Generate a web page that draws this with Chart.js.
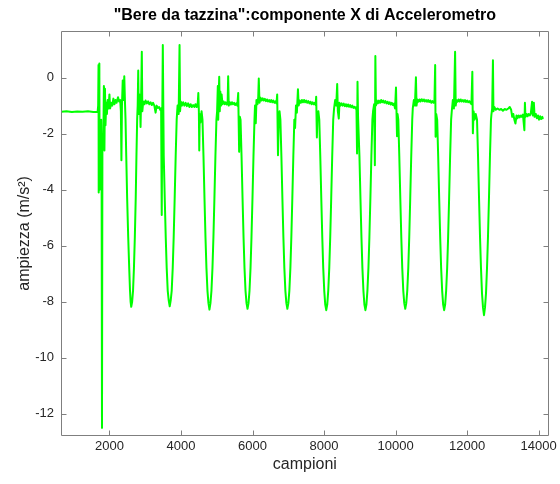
<!DOCTYPE html>
<html>
<head>
<meta charset="utf-8">
<title>Bere da tazzina - componente X</title>
<script src="https://cdn.jsdelivr.net/npm/chart.js@4/dist/chart.umd.min.js"></script>
<style>
    body { margin: 0; background: #ffffff; }
    canvas { display: block; }
</style>
</head>
<body>
<canvas id="accChart" width="560" height="484"></canvas>
<script>
// Sample index (campioni) and X acceleration (m/s^2), segment by segment
const campioni = [
    660, 800, 950, 1100, 1250, 1400, 1550, 1670,
    1685, 1695, 1700, 1710, 1718, 1726, 1740, 1755, 1770, 1780, 1792, 1804,
    1828, 1845, 1860, 1875, 1890, 1910, 1930, 1950, 1975, 2000, 2020, 2050, 2080, 2110, 2140, 2170, 2200, 2240, 2270, 2300, 2320, 2335, 2350, 2372, 2395, 2415, 2435,
    2450, 2470, 2495, 2525, 2553, 2575, 2592, 2609, 2635, 2660, 2685, 2710, 2735, 2755, 2775,
    2790, 2805, 2818, 2840, 2860, 2870, 2885, 2905, 2920, 2945, 2980, 3010, 3045, 3080, 3115, 3150, 3185, 3220, 3255, 3290, 3320, 3355, 3390, 3420, 3445, 3462, 3476, 3492,
    3518, 3546, 3574, 3601, 3629, 3657, 3685, 3713, 3741, 3769, 3796, 3824, 3852, 3880,
    3905, 3935, 3960, 3975, 3995, 4025, 4060, 4095, 4130, 4165, 4200, 4235, 4270, 4305, 4340, 4375, 4405, 4440, 4470, 4485, 4500, 4511, 4525, 4545, 4575,
    4601, 4629, 4657, 4685, 4712, 4740, 4768, 4796, 4824, 4852, 4880, 4907, 4935, 4963, 4991,
    5010, 5030, 5041, 5055, 5069, 5085, 5100, 5120, 5136, 5160, 5190, 5220, 5250, 5280, 5305, 5319, 5335, 5365, 5395, 5425, 5455, 5485, 5515, 5545, 5575, 5600, 5626, 5645,
    5665, 5693, 5721, 5749, 5776, 5804, 5832, 5860, 5888, 5916, 5944, 5971, 5999, 6027, 6055,
    6070, 6091, 6110, 6140, 6160, 6175, 6195, 6225, 6255, 6285, 6315, 6345, 6375, 6405, 6435, 6465, 6495, 6525, 6555, 6585, 6615, 6645, 6670, 6690, 6712, 6735, 6755,
    6779, 6807, 6835, 6863, 6890, 6918, 6946, 6974, 7002, 7030, 7058, 7085, 7113, 7141, 7169,
    7190, 7215, 7240, 7270, 7290, 7320, 7350, 7380, 7410, 7440, 7470, 7500, 7530, 7560, 7590, 7620, 7650, 7680, 7710, 7740, 7765, 7780, 7799, 7815, 7840,
    7866, 7894, 7922, 7950, 7977, 8005, 8033, 8061, 8089, 8117, 8145, 8172, 8200, 8228, 8256,
    8280, 8310, 8340, 8367, 8385, 8412, 8430, 8460, 8490, 8520, 8550, 8580, 8610, 8640, 8670, 8700, 8730, 8760, 8790, 8820, 8850, 8880, 8905, 8922, 8935, 8950,
    8989, 9017, 9045, 9072, 9100, 9128, 9156, 9184, 9212, 9240, 9267, 9295, 9323, 9351,
    9370, 9400, 9420, 9434, 9450, 9475, 9505, 9535, 9565, 9595, 9625, 9655, 9685, 9715, 9745, 9775, 9805, 9835, 9865, 9895, 9925, 9955, 9985, 10011, 10039, 10055,
    10075, 10103, 10131, 10159, 10186, 10214, 10242, 10270, 10298, 10326, 10354, 10381, 10409, 10437, 10465,
    10480, 10510, 10540, 10568, 10585, 10610, 10640, 10670, 10700, 10730, 10760, 10790, 10820, 10850, 10880, 10910, 10940, 10970, 11000, 11030, 11060, 11085, 11106, 11118, 11135,
    11162, 11190, 11218, 11246, 11273, 11301, 11329, 11357, 11385, 11413, 11441, 11468, 11496, 11524, 11552,
    11570, 11600, 11630, 11663, 11680, 11700, 11730, 11760, 11790, 11820, 11850, 11880, 11910, 11940, 11970, 12000, 12030, 12060, 12090, 12120, 12145, 12160, 12180, 12210, 12240,
    12276, 12304, 12332, 12360, 12387, 12415, 12443, 12471, 12499, 12527, 12555, 12582, 12610, 12638, 12666,
    12680, 12700, 12721, 12735, 12760, 12800, 12850, 12900, 12950, 13000, 13050, 13100, 13150, 13190, 13230, 13260, 13290, 13320, 13350, 13380, 13410, 13440, 13470, 13500, 13530, 13560, 13600, 13615, 13630, 13660, 13690, 13720, 13750, 13780, 13815, 13835, 13865, 13885, 13920, 13950, 13980, 14010, 14040, 14070, 14100, 14114
];

const ampiezza = [
    -1.22, -1.2, -1.23, -1.21, -1.22, -1.2, -1.23, -1.22,
    -1.0, 0.45, -4.1, -2.0, 0.5, -4.0, -1.8, -3.5, -1.5, -2.5, -12.5, -2.0,
    -2.4, -0.3, -2.6, -0.4, -1.7, -0.9, -1.3, -0.8, -1.1, -0.6, -1.1, -0.9, -1.0, -0.75, -0.95, -0.8, -0.9, -0.7, -0.85, -0.8, -1.2, -2.95, -1.0, -0.1, -0.8, 0.05, -0.9,
    -1.5, -2.8, -4.3, -5.7, -6.8, -7.6, -8.0, -8.18, -8.0, -7.6, -6.8, -5.7, -4.3, -2.8, -1.5,
    -1.0, 0.25, -1.3, -0.6, -1.2, -1.76, -0.8, 0.92, -1.2, -0.85, -0.95, -0.82, -0.92, -0.85, -0.95, -0.88, -0.98, -0.9, -1.0, -1.25, -1.0, -1.08, -1.05, -1.15, -1.1, -4.9, -1.5, 1.16,
    -2.8, -4.3, -5.7, -6.8, -7.6, -7.95, -8.16, -7.95, -7.6, -6.8, -5.7, -4.3, -2.8, -1.5,
    -1.0, -1.3, 1.16, -1.2, -0.85, -1.0, -0.88, -1.0, -0.9, -1.02, -0.92, -1.05, -0.95, -1.05, -0.98, -1.05, -0.95, -1.05, -0.9, -0.55, -1.2, -2.6, -1.3, -1.6, -1.2,
    -1.5, -2.8, -4.3, -5.7, -6.8, -7.6, -8.05, -8.28, -8.05, -7.6, -6.8, -5.7, -4.3, -2.8, -1.5,
    -1.2, -0.3, -1.5, -0.6, 0.03, -1.2, -0.5, -1.0, -0.6, -0.95, -0.85, -0.95, -0.88, -0.96, -0.9, 0.05, -1.0, -0.88, -0.96, -0.88, -0.95, -0.9, -0.98, -0.92, -1.0, -0.55, -2.65, -1.4,
    -1.5, -2.8, -4.3, -5.7, -6.8, -7.6, -8.05, -8.25, -8.05, -7.6, -6.8, -5.7, -4.3, -2.8, -1.5,
    -1.0, -1.63, -0.8, -0.95, -0.7, -0.03, -0.9, -0.72, -0.82, -0.74, -0.82, -0.76, -0.84, -0.78, -0.85, -0.8, -0.87, -0.8, -0.88, -0.82, -0.9, -0.85, -0.92, -0.6, -2.77, -1.4, -1.2,
    -1.5, -2.8, -4.3, -5.7, -6.8, -7.6, -8.05, -8.25, -8.05, -7.6, -6.8, -5.7, -4.3, -2.8, -1.5,
    -1.8, -1.0, -1.25, -0.42, -1.0, -0.82, -0.9, -0.8, -0.88, -0.8, -0.88, -0.82, -0.9, -0.84, -0.92, -0.86, -0.95, -0.88, -0.95, -0.9, -0.98, -0.68, -2.14, -1.3, -1.2,
    -1.5, -2.8, -4.3, -5.7, -6.8, -7.6, -8.1, -8.3, -8.1, -7.6, -6.8, -5.7, -4.3, -2.8, -1.5,
    -1.1, -0.8, -1.0, -0.23, -1.2, -1.46, -0.9, -1.0, -0.92, -1.0, -0.93, -1.02, -0.95, -1.03, -0.96, -1.04, -0.98, -1.06, -1.0, -1.08, -1.04, -1.1, -1.05, -2.71, -0.15, -1.4,
    -2.8, -4.3, -5.7, -6.8, -7.6, -8.1, -8.3, -8.1, -7.6, -6.8, -5.7, -4.3, -2.8, -1.5,
    -1.2, -0.95, -3.13, 0.77, -1.0, -0.82, -0.92, -0.82, -0.9, -0.8, -0.88, -0.82, -0.9, -0.84, -0.92, -0.86, -0.94, -0.88, -0.96, -0.9, -0.98, -0.93, -1.1, -0.35, -2.09, -1.3,
    -1.5, -2.8, -4.3, -5.7, -6.8, -7.6, -8.05, -8.25, -8.05, -7.6, -6.8, -5.7, -4.3, -2.8, -1.5,
    -1.1, -0.8, -1.0, 0.01, -1.0, -0.78, -0.86, -0.78, -0.85, -0.77, -0.84, -0.78, -0.85, -0.8, -0.86, -0.8, -0.87, -0.82, -0.9, -0.84, -0.9, -0.88, 0.45, -2.11, -1.3,
    -1.5, -2.8, -4.3, -5.7, -6.8, -7.6, -8.1, -8.3, -8.1, -7.6, -6.8, -5.7, -4.3, -2.8, -1.5,
    -1.2, -0.8, -1.1, 0.92, -1.0, -0.8, -0.86, -0.78, -0.85, -0.78, -0.85, -0.8, -0.86, -0.8, -0.87, -0.82, -0.88, -0.84, -0.9, -0.95, 0.21, -1.99, -1.2, -1.5, -1.3,
    -1.5, -2.8, -4.3, -5.7, -6.8, -7.7, -8.2, -8.48, -8.2, -7.7, -6.8, -5.7, -4.3, -2.8, -1.5,
    -1.3, -1.1, 0.62, -1.2, -1.05, -1.15, -1.1, -1.15, -1.12, -1.18, -1.12, -1.15, -1.1, -1.05, -1.15, -1.4, -1.3, -1.5, -1.64, -1.35, -1.45, -1.35, -1.42, -1.35, -1.4, -1.32, -1.88, -0.9, -1.4, -1.3, -1.38, -1.3, -1.35, -1.28, -0.86, -1.35, -0.9, -1.4, -1.3, -1.45, -1.35, -1.5, -1.38, -1.48, -1.4, -1.45
];

// Axis ticks and limits
const xTicks = [2000, 4000, 6000, 8000, 10000, 12000, 14000];
const yTicks = [-12, -10, -8, -6, -4, -2, 0];
const xLimits = [646, 14280];
const yLimits = [-12.79, 1.67];

const fontFamily = '"Liberation Sans", Arial, Helvetica, sans-serif';
const textColor = '#262626';

// Box round the plot with MATLAB style inward ticks
const boxPlugin = {
    id: 'boxPlugin',
    afterDatasetsDraw(chart) {
        const ctx = chart.ctx;
        const area = chart.chartArea;
        const xs = chart.scales.x;
        const ys = chart.scales.y;
        const tick = 5;
        ctx.save();
        ctx.strokeStyle = '#7f7f7f';
        ctx.lineWidth = 1;
        ctx.beginPath();
        const l = Math.round(area.left) + 0.5;
        const r = Math.round(area.right) - 0.5;
        const t = Math.round(area.top) + 0.5;
        const b = Math.round(area.bottom) - 0.5;
        ctx.rect(l, t, r - l, b - t);
        xTicks.forEach(v => {
            const px = Math.round(xs.getPixelForValue(v)) + 0.5;
            ctx.moveTo(px, b);
            ctx.lineTo(px, b - tick);
            ctx.moveTo(px, t);
            ctx.lineTo(px, t + tick);
        });
        yTicks.forEach(v => {
            const py = Math.round(ys.getPixelForValue(v)) + 0.5;
            ctx.moveTo(l, py);
            ctx.lineTo(l + tick, py);
            ctx.moveTo(r, py);
            ctx.lineTo(r - tick, py);
        });
        ctx.stroke();
        ctx.restore();
    }
};

const config = {
    type: 'line',
    data: {
        datasets: [{
            label: 'componente X',
            data: campioni.map((c, i) => ({ x: c, y: ampiezza[i] })),
            borderColor: '#00ff00',
            borderWidth: 2,
            borderJoinStyle: 'round',
            borderCapStyle: 'round',
            borderDash: [100000, 0], // solid, but keeps Chart.js off its column-merging fast path
            pointRadius: 0,
            tension: 0,
            fill: false
        }]
    },
    options: {
        responsive: false,
        animation: false,
        devicePixelRatio: 1,
        layout: {
            padding: { left: 0, right: 10, top: 0, bottom: 0 }
        },
        plugins: {
            legend: { display: false },
            tooltip: { enabled: false },
            title: {
                display: true,
                text: '"Bere da tazzina":componente X di Accelerometro',
                color: '#000000',
                font: { family: fontFamily, size: 16, weight: 'bold' },
                padding: { top: 6, bottom: 5.6 },
                fullSize: false
            }
        },
        scales: {
            x: {
                type: 'linear',
                min: xLimits[0],
                max: xLimits[1],
                afterBuildTicks: scale => { scale.ticks = xTicks.map(v => ({ value: v })); },
                afterFit: scale => { scale.height = 48; },
                grid: { display: false, drawTicks: false },
                border: { display: false },
                ticks: {
                    color: textColor,
                    font: { family: fontFamily, size: 13 },
                    padding: 3,
                    maxRotation: 0,
                    autoSkip: false,
                    callback: v => String(v)
                },
                title: {
                    display: true,
                    text: 'campioni',
                    color: textColor,
                    font: { family: fontFamily, size: 16 },
                    padding: { top: 0, bottom: 10 }
                }
            },
            y: {
                type: 'linear',
                min: yLimits[0],
                max: yLimits[1],
                afterBuildTicks: scale => { scale.ticks = yTicks.map(v => ({ value: v })); },
                afterFit: scale => { scale.width = 61; },
                grid: { display: false, drawTicks: false },
                border: { display: false },
                ticks: {
                    color: textColor,
                    font: { family: fontFamily, size: 13 },
                    padding: 7,
                    autoSkip: false,
                    callback: v => String(v)
                },
                title: {
                    display: true,
                    text: 'ampiezza (m/s²)',
                    color: textColor,
                    font: { family: fontFamily, size: 16 },
                    padding: { top: 15, bottom: 0 }
                }
            }
        }
    },
    plugins: [boxPlugin]
};

// Render the chart
const accChart = new Chart(document.getElementById('accChart'), config);
</script>
</body>
</html>
